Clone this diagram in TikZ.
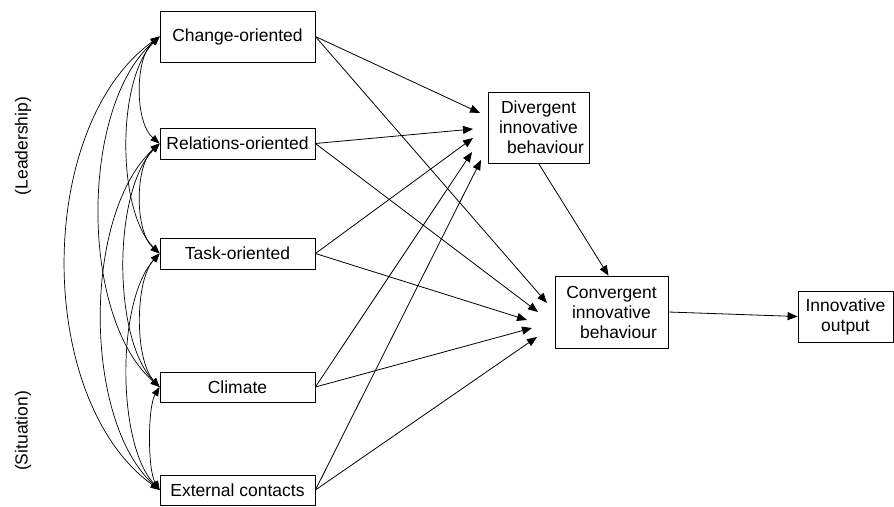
\documentclass[tikz,border=0pt]{standalone}
\usepackage{fontspec}
\setmainfont{Liberation Sans}
\usetikzlibrary{arrows.meta}
\begin{document}
\begin{tikzpicture}[x=1pt,y=-1pt,
  box/.style={draw, line width=0.8pt, inner sep=0pt, align=center, font=\fontsize{17.5}{20}\selectfont},
  arr/.style={line width=0.8pt, -{Triangle[length=10pt,width=8pt]}},
  dbl/.style={line width=0.7pt, {Triangle[length=9pt,width=7pt]}-{Triangle[length=9pt,width=7pt]}},
  lab/.style={rotate=90, font=\fontsize{17.5}{20}\selectfont}]
\useasboundingbox (0,0) rectangle (894,506);

% left boxes
\node[box, minimum width=155pt, minimum height=51pt] (co) at (237.5,36.5) {Change-oriented};
\node[box, minimum width=155pt, minimum height=31pt] (re) at (237.5,143.5) {Relations-oriented};
\node[box, minimum width=155pt, minimum height=31pt] (ta) at (237.5,253.5) {Task-oriented};
\node[box, minimum width=155pt, minimum height=30pt] (cl) at (237.5,387) {Climate};
\node[box, minimum width=155pt, minimum height=30pt] (ex) at (237.5,490) {External contacts};

% right boxes
\node[box, minimum width=101pt, minimum height=71pt] (dv) at (538.5,127.5) {Divergent\\innovative\\\hspace*{14pt}behaviour};
\node[box, minimum width=113pt, minimum height=72pt] (cv) at (611.5,312) {Convergent\\innovative\\\hspace*{14pt}behaviour};
\node[box, minimum width=95pt, minimum height=51pt] (io) at (845.5,316.5) {Innovative\\output};

% side labels
\node[lab] (ld) at (23,146) {(Leadership)};
\node[lab] (st) at (23,431) {(Situation)};

% arrow end points
\coordinate (d1) at (480,113);
\coordinate (d2) at (473,129);
\coordinate (d3) at (473,138);
\coordinate (d4) at (472,152);
\coordinate (d5) at (481,160);
\coordinate (c1) at (547,303);
\coordinate (c2) at (538,312);
\coordinate (c3) at (527,320);
\coordinate (c4) at (532,328);
\coordinate (c5) at (537,337);

\draw[arr] (co.east) -- (d1);
\draw[arr] (re.east) -- (d2);
\draw[arr] (ta.east) -- (d3);
\draw[arr] (cl.east) -- (d4);
\draw[arr] (ex.east) -- (d5);
\draw[arr] (co.east) -- (c1);
\draw[arr] (re.east) -- (c2);
\draw[arr] (ta.east) -- (c3);
\draw[arr] (cl.east) -- (c4);
\draw[arr] (ex.east) -- (c5);

\draw[arr] (dv.south) -- ([xshift=-3pt]cv.north);
\draw[arr] (cv.east) -- (io.west);

% correlations
\draw[dbl] (co.west) .. controls +(-125,90) and +(-125,-90) .. (ex.west);
\draw[dbl] (co.west) .. controls +(-80,70) and +(-80,-70) .. (cl.west);
\draw[dbl] (re.west) .. controls +(-77,70) and +(-77,-70) .. (ex.west);
\draw[dbl] (co.west) .. controls +(-43,43) and +(-43,-43) .. (ta.west);
\draw[dbl] (re.west) .. controls +(-47,48) and +(-47,-48) .. (cl.west);
\draw[dbl] (ta.west) .. controls +(-43,47) and +(-43,-47) .. (ex.west);
\draw[dbl] (co.west) .. controls +(-25,21) and +(-25,-21) .. (re.west);
\draw[dbl] (re.west) .. controls +(-25,22) and +(-25,-22) .. (ta.west);
\draw[dbl] (ta.west) .. controls +(-25,27) and +(-25,-27) .. (cl.west);
\draw[dbl] (cl.west) .. controls +(-12,20) and +(-12,-20) .. (ex.west);
\end{tikzpicture}
\end{document}
